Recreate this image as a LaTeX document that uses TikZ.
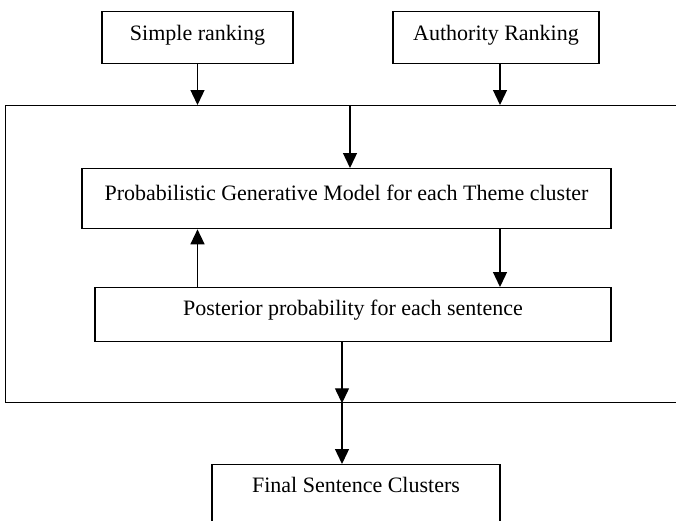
\documentclass[tikz,border=0pt]{standalone}
\usepackage{fontspec}
\setmainfont{Liberation Serif}
\usetikzlibrary{arrows.meta,positioning}
\tikzset{
  box/.style={draw, line width=1.3pt, inner xsep=0pt, inner ysep=0pt, anchor=north},
  flow/.style={line width=1.3pt, -{Triangle[width=14pt,length=15pt]}}
}
\begin{document}
\begin{tikzpicture}[x=1pt,y=-1pt,font=\fontsize{22}{26}\selectfont]
  \useasboundingbox (0,0) rectangle (676,520);
  \clip (0,0) rectangle (676,520);
  \node[box, minimum width=191pt, text height=29pt, text depth=23pt] (simple) at (197.5,11) {Simple ranking};
  \node[box, minimum width=206pt, text height=29pt, text depth=23pt] (authority) at (496,11) {Authority Ranking};
  \node[draw, line width=1.3pt, anchor=north west, inner sep=0pt,
        minimum width=700pt, minimum height=297pt] (frame) at (5,105) {};
  \node[box, minimum width=529pt, text height=31.5pt, text depth=28.5pt] (pgm) at (346.5,168)
    {Probabilistic Generative Model for each Theme cluster};
  \node[box, minimum width=516pt, text height=28pt, text depth=26pt] (posterior) at (353,287)
    {Posterior probability for each sentence};
  \node[box, minimum width=288pt, text height=28pt, text depth=70pt] (final) at (356,464)
    {Final Sentence Clusters};
  \coordinate (atap) at ([xshift=4pt]authority.south);
  \coordinate (ptap) at ([xshift=-11pt]posterior.south);
  \begin{scope}[flow]
    \draw (simple.south) to (simple.south |- frame.north);
    \draw (atap) to (atap |- frame.north);
    \draw ([xshift=3.5pt]pgm.north |- frame.north) to ([xshift=3.5pt]pgm.north);
    \draw (posterior.north -| simple.south) to (pgm.south -| simple.south);
    \draw (pgm.south -| atap) to (posterior.north -| atap);
    \draw (ptap) to (ptap |- frame.south);
    \draw (ptap |- frame.south) to (ptap |- final.north);
  \end{scope}
\end{tikzpicture}
\end{document}
